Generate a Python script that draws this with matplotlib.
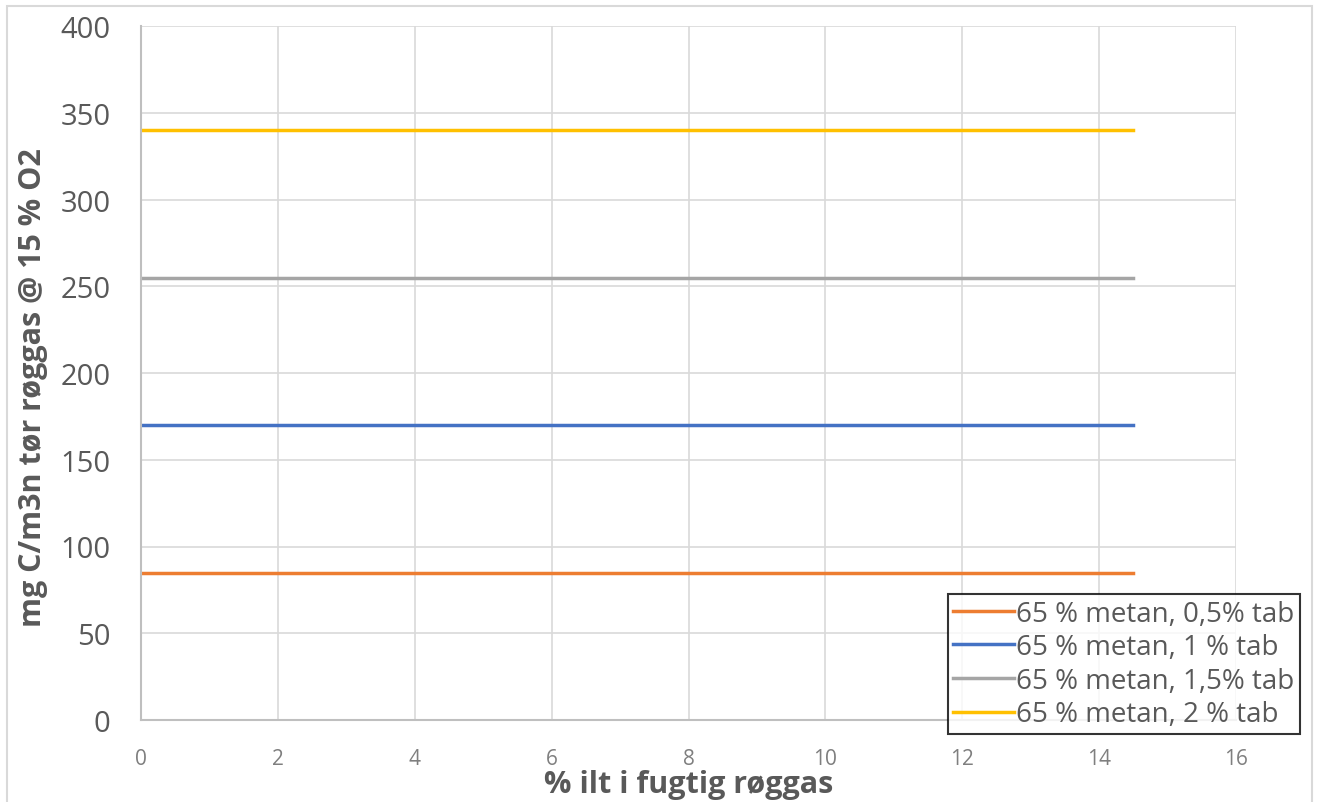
import matplotlib
matplotlib.use("Agg")
import matplotlib.pyplot as plt
import matplotlib.patches as mpatches

# data
x_vals = [0, 14.5]
series_labels = [
    "65 % metan, 0,5% tab",
    "65 % metan, 1 % tab",
    "65 % metan, 1,5% tab",
    "65 % metan, 2 % tab",
]
series_values = [85, 170, 255, 340]
series_colors = ["#ED7D31", "#4472C4", "#A5A5A5", "#FFC000"]

x_ticks = list(range(0, 17, 2))
y_ticks = list(range(0, 401, 50))

plt.rcParams["font.family"] = ["Open Sans", "DejaVu Sans"]
text_col = "#595959"

fig = plt.figure(figsize=(13.19, 8.03), dpi=100)
ax = fig.add_axes([141 / 1319, 1 - 721 / 803, (1236 - 141) / 1319, (721 - 27) / 803])

# outer chart border
fig.patches.append(mpatches.Rectangle((7 / 1319, -0.01), 1305 / 1319, 1 - 7 / 803 + 0.01,
                                      transform=fig.transFigure, fill=False,
                                      edgecolor="#d9d9d9", linewidth=1.5))

for label, val, col in zip(series_labels, series_values, series_colors):
    ax.plot(x_vals, [val] * len(x_vals), color=col, linewidth=2.5, label=label)

ax.set_xlim(0, 16)
ax.set_ylim(0, 400)
ax.set_xticks(x_ticks)
ax.set_yticks(y_ticks)
ax.grid(True, color="#d9d9d9", linewidth=1.2)
ax.set_axisbelow(True)
for s in ["top", "right"]:
    ax.spines[s].set_visible(False)
for s in ["left", "bottom"]:
    ax.spines[s].set_color("#bfbfbf")
    ax.spines[s].set_linewidth(1.5)
ax.tick_params(axis="both", length=0, colors=text_col)
ax.tick_params(axis="y", labelsize=21, pad=22)
ax.tick_params(axis="x", labelsize=15, pad=20, labelcolor="#7f7f7f")

ax.set_xlabel("% ilt i fugtig røggas", fontsize=22, fontweight="bold", color=text_col, labelpad=0)
ax.set_ylabel("mg C/m3n tør røggas @ 15 % O2", fontsize=22, fontweight="bold", color=text_col, labelpad=6)
ax.yaxis.set_label_coords(-0.085, 0.48)

leg = ax.legend(loc="lower right", bbox_to_anchor=(1.058, -0.02), fontsize=20,
                frameon=True, fancybox=False, handlelength=2.2, handletextpad=0.05,
                borderpad=0.2, labelspacing=0.2, borderaxespad=0)
leg.get_frame().set_edgecolor("black")
leg.get_frame().set_linewidth(1.5)
for t in leg.get_texts():
    t.set_color(text_col)

fig.savefig("out.png", dpi=100)
